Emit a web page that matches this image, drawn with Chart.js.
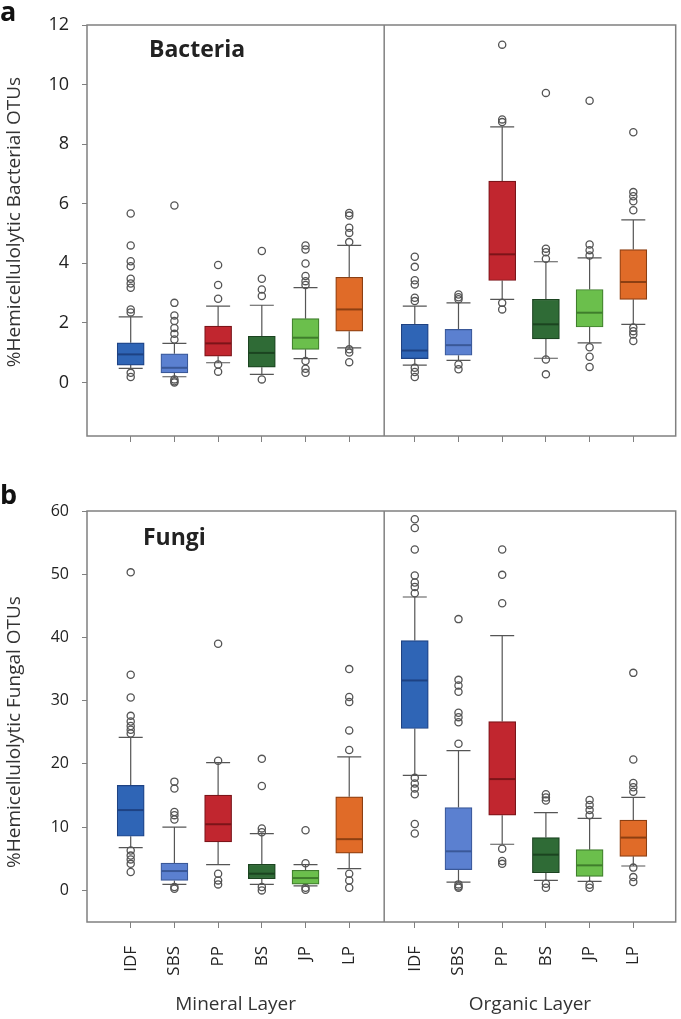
<!DOCTYPE html>
<html>
<head>
<meta charset="utf-8">
<script src="https://cdn.jsdelivr.net/npm/chart.js@4.4.1/dist/chart.umd.min.js"></script>
<style>
  body { margin: 0; background: #fff; }
  #wrap { position: relative; width: 681px; height: 1019px; }
  .panel { position: absolute; left: 0; }
</style>
</head>
<body>
<div id="wrap">
  <div class="panel" style="top:0"><canvas id="chartA" width="681" height="470"></canvas></div>
  <div class="panel" style="top:470px"><canvas id="chartB" width="681" height="549"></canvas></div>
</div>
<script>
/**************************************
 * DATOS (6 mineral + 6 organic)
 **************************************/
const categorias = ['IDF', 'SBS', 'PP', 'BS', 'JP', 'LP'];
const capas = ['Mineral Layer', 'Organic Layer'];

// Bacteria
const bacLow = [0.47, 0.19, 0.66, 0.27, 0.80, 1.16, 0.58, 0.74, 2.79, 0.81, 1.33, 1.95];
const bacQ1  = [0.58, 0.32, 0.88, 0.51, 1.11, 1.72, 0.80, 0.91, 3.42, 1.46, 1.86, 2.79];
const bacMed = [0.94, 0.49, 1.31, 0.99, 1.50, 2.45, 1.07, 1.25, 4.30, 1.95, 2.34, 3.37];
const bacQ3  = [1.33, 0.96, 1.89, 1.55, 2.14, 3.53, 1.95, 1.78, 6.76, 2.79, 3.12, 4.46];
const bacHigh = [2.20, 1.31, 2.56, 2.59, 3.18, 4.60, 2.56, 2.67, 8.58, 4.05, 4.18, 5.46];
const bacOut = [
  [5.67, 4.6, 4.07, 3.9, 3.48, 3.32, 3.18, 2.45, 2.35, 0.32, 0.18],
  [5.94, 2.67, 2.25, 2.06, 1.83, 1.63, 1.44, 0.1, 0.04, 0.0],
  [3.94, 3.27, 2.81, 0.6, 0.36],
  [4.41, 3.48, 3.12, 2.9, 0.1],
  [4.6, 4.46, 3.99, 3.57, 3.4, 3.27, 0.72, 0.46, 0.32],
  [5.69, 5.6, 5.19, 5.02, 4.71, 1.11, 1.0, 0.68],
  [4.22, 3.88, 3.43, 3.29, 2.84, 2.73, 0.49, 0.35, 0.18],
  [2.95, 2.86, 2.79, 0.6, 0.44],
  [11.34, 8.83, 8.74, 2.67, 2.45],
  [9.72, 4.49, 4.37, 4.15, 0.77, 0.27],
  [9.46, 4.63, 4.44, 4.26, 1.18, 0.86, 0.52],
  [8.4, 6.39, 6.25, 6.08, 5.78, 1.84, 1.72, 1.61, 1.39]
];
const bacTicks = [0, 2, 4, 6, 8, 10, 12];

// Fungi
const funLow = [6.76, 0.95, 4.07, 0.95, 0.7, 3.43, 18.2, 1.32, 7.3, 1.58, 1.43, 3.86];
const funQ1  = [8.56, 1.58, 7.66, 1.85, 1.0, 5.9, 25.6, 3.28, 11.9, 2.8, 2.22, 5.39];
const funMed = [12.7, 3.06, 10.46, 2.64, 1.95, 8.1, 33.2, 6.18, 17.6, 5.65, 3.96, 8.35];
const funQ3  = [16.6, 4.33, 15.06, 4.12, 3.17, 14.8, 39.5, 13.1, 26.7, 8.35, 6.44, 11.1];
const funHigh = [24.2, 10.0, 20.2, 8.98, 4.07, 21.1, 46.4, 22.1, 40.3, 12.3, 11.4, 14.7];
const funOut = [
  [50.3, 34.1, 30.5, 27.6, 26.7, 26.0, 25.4, 24.8, 6.3, 5.5, 4.9, 4.2, 2.9],
  [17.2, 16.1, 12.4, 11.9, 11.2, 0.53, 0.26],
  [39.0, 20.5, 2.64, 1.58, 0.95],
  [20.8, 16.5, 9.8, 9.2, 0.53, 0.0],
  [9.5, 4.3, 0.42, 0.1],
  [35.0, 30.6, 29.8, 25.3, 22.2, 2.64, 1.58, 0.42],
  [58.7, 57.3, 53.9, 49.8, 48.7, 48.0, 47.0, 17.8, 16.9, 16.1, 15.2, 10.5, 9.0],
  [42.9, 33.3, 32.4, 31.4, 28.1, 27.4, 26.6, 23.2, 0.95, 0.63, 0.42],
  [53.9, 49.9, 45.4, 6.6, 4.65, 4.2],
  [15.2, 14.7, 14.2, 1.06, 0.42],
  [14.3, 13.5, 12.7, 11.9, 0.9, 0.42],
  [34.4, 20.7, 17.0, 16.3, 15.6, 3.6, 2.1, 1.32]
];
const funTicks = [0, 10, 20, 30, 40, 50, 60];

/**************************************
 * ESTILO
 **************************************/
const colores = ['#2f65b6', '#5b80d0', '#c1262f', '#2f6b36', '#6bbf4c', '#e06b28'];
const bordes  = ['#1e4283', '#3a5898', '#7c1419', '#1b4420', '#3f7d2c', '#8c3f12'];
const FUENTE = "'Open Sans', 'Noto Sans', sans-serif";
const GRIS = '#808080';

// posicion en x: mineral 1..6, organic 7.5..12.5
const pos = i => (i < 6 ? i + 1 : i + 1.5);
const DIVISOR = 6.8;
const X_MAX = 13.47;

function cajasPlugin(st) {
  return {
    id: 'cajas',
    beforeDatasetsDraw(chart) {
      const { ctx } = chart;
      const xs = chart.scales.x, ys = chart.scales.y;
      ctx.save();
      ctx.strokeStyle = '#555';
      ctx.lineWidth = 1.2;
      st.med.forEach((m, i) => {
        const px = xs.getPixelForValue(pos(i));
        ctx.beginPath();
        ctx.moveTo(px, ys.getPixelForValue(st.q3[i]));
        ctx.lineTo(px, ys.getPixelForValue(st.high[i]));
        ctx.moveTo(px, ys.getPixelForValue(st.q1[i]));
        ctx.lineTo(px, ys.getPixelForValue(st.low[i]));
        [st.high[i], st.low[i]].forEach(v => {
          const py = ys.getPixelForValue(v);
          ctx.moveTo(px - 12, py);
          ctx.lineTo(px + 12, py);
        });
        ctx.stroke();
      });
      ctx.restore();
    },
    afterDatasetsDraw(chart) {
      const { ctx, chartArea: a } = chart;
      const xs = chart.scales.x, ys = chart.scales.y;
      ctx.save();
      // medianas
      ctx.lineWidth = 2;
      st.med.forEach((m, i) => {
        const px = xs.getPixelForValue(pos(i));
        const py = ys.getPixelForValue(m);
        ctx.strokeStyle = bordes[i % 6];
        ctx.beginPath();
        ctx.moveTo(px - 13, py);
        ctx.lineTo(px + 13, py);
        ctx.stroke();
      });
      // marco y divisor
      ctx.strokeStyle = GRIS;
      ctx.lineWidth = 1.5;
      ctx.strokeRect(a.left, a.top, a.right - a.left, a.bottom - a.top);
      const dx = xs.getPixelForValue(DIVISOR);
      ctx.beginPath();
      ctx.moveTo(dx, a.top);
      ctx.lineTo(dx, a.bottom);
      ctx.stroke();
      ctx.restore();
    },
    afterDraw(chart) {
      const { ctx } = chart;
      const xs = chart.scales.x;
      ctx.save();
      ctx.fillStyle = '#111';
      ctx.font = 'bold 27px ' + FUENTE;
      ctx.textBaseline = 'alphabetic';
      ctx.fillText(st.letra, 0, st.letraY);
      ctx.fillStyle = '#222';
      ctx.font = 'bold 23px ' + FUENTE;
      ctx.fillText(st.nombre, st.nombreX, st.nombreY);
      // titulo eje y
      ctx.fillStyle = '#333';
      ctx.font = '19px ' + FUENTE;
      ctx.textAlign = 'center';
      ctx.textBaseline = 'middle';
      ctx.translate(15, st.tituloY);
      ctx.rotate(-Math.PI / 2);
      ctx.fillText(st.titulo, 0, 0);
      ctx.restore();
      if (st.capas) {
        ctx.save();
        ctx.fillStyle = '#333';
        ctx.font = '19px ' + FUENTE;
        ctx.textAlign = 'center';
        ctx.textBaseline = 'middle';
        const mitades = [(0 + DIVISOR) / 2, (DIVISOR + X_MAX) / 2];
        capas.forEach((c, k) => ctx.fillText(c, xs.getPixelForValue(mitades[k]), st.capasY));
        ctx.restore();
      }
    }
  };
}

function grafica(id, st) {
  const cajas = st.q1.map((q, i) => ({ x: pos(i), y: [q, st.q3[i]] }));
  const puntos = [];
  st.out.forEach((lista, i) => lista.forEach(v => puntos.push({ x: pos(i), y: v })));

  new Chart(document.getElementById(id), {
    type: 'bar',
    data: {
      datasets: [
        {
          data: cajas,
          backgroundColor: st.q1.map((q, i) => colores[i % 6]),
          borderColor: st.q1.map((q, i) => bordes[i % 6]),
          borderWidth: 1.2,
          borderSkipped: false,
          barThickness: 27
        },
        {
          type: 'scatter',
          data: puntos,
          pointStyle: 'circle',
          pointRadius: 3.6,
          borderColor: '#555',
          borderWidth: 1.3,
          backgroundColor: 'rgba(255,255,255,0)'
        }
      ]
    },
    options: {
      responsive: false,
      animation: false,
      layout: { padding: { top: st.padTop, right: 4, left: 0, bottom: 0 } },
      plugins: { legend: { display: false }, tooltip: { enabled: false } },
      scales: {
        x: {
          type: 'linear',
          min: 0,
          max: X_MAX,
          offset: false,
          afterBuildTicks: s => { s.ticks = st.q1.map((q, i) => ({ value: pos(i) })); },
          afterFit: s => { s.height = st.alturaX; },
          ticks: {
            display: st.etiquetas,
            autoSkip: false,
            minRotation: 90,
            maxRotation: 90,
            padding: 18,
            color: '#222',
            font: { family: FUENTE, size: 17 },
            callback: (v, i) => categorias[i % 6]
          },
          grid: { display: true, offset: false, drawOnChartArea: false, drawTicks: true, tickLength: 6, color: GRIS },
          border: { display: false }
        },
        y: {
          min: st.min,
          max: st.max,
          afterBuildTicks: s => { s.ticks = st.ticks.map(v => ({ value: v })); },
          afterFit: s => { s.width = 87; },
          ticks: { padding: 13, color: '#222', font: { family: FUENTE, size: st.tamTick } },
          grid: { display: true, drawOnChartArea: false, drawTicks: true, tickLength: 5, color: GRIS },
          border: { display: false }
        }
      }
    },
    plugins: [cajasPlugin(st)]
  });
}

grafica('chartA', {
  low: bacLow, q1: bacQ1, med: bacMed, q3: bacQ3, high: bacHigh, out: bacOut,
  ticks: bacTicks, min: -1.8, max: 12, tamTick: 18,
  padTop: 25, alturaX: 34, etiquetas: false,
  letra: 'a', letraY: 21, nombre: 'Bacteria', nombreX: 149, nombreY: 57,
  titulo: '%Hemicellulolytic Bacterial OTUs', tituloY: 222
});

grafica('chartB', {
  low: funLow, q1: funQ1, med: funMed, q3: funQ3, high: funHigh, out: funOut,
  ticks: funTicks, min: -5, max: 60, tamTick: 16,
  padTop: 41, alturaX: 97, etiquetas: true,
  letra: 'b', letraY: 34, nombre: 'Fungi', nombreX: 143, nombreY: 75,
  titulo: '%Hemicellulolytic Fungal OTUs', tituloY: 262,
  capas: true, capasY: 535
});
</script>
</body>
</html>
